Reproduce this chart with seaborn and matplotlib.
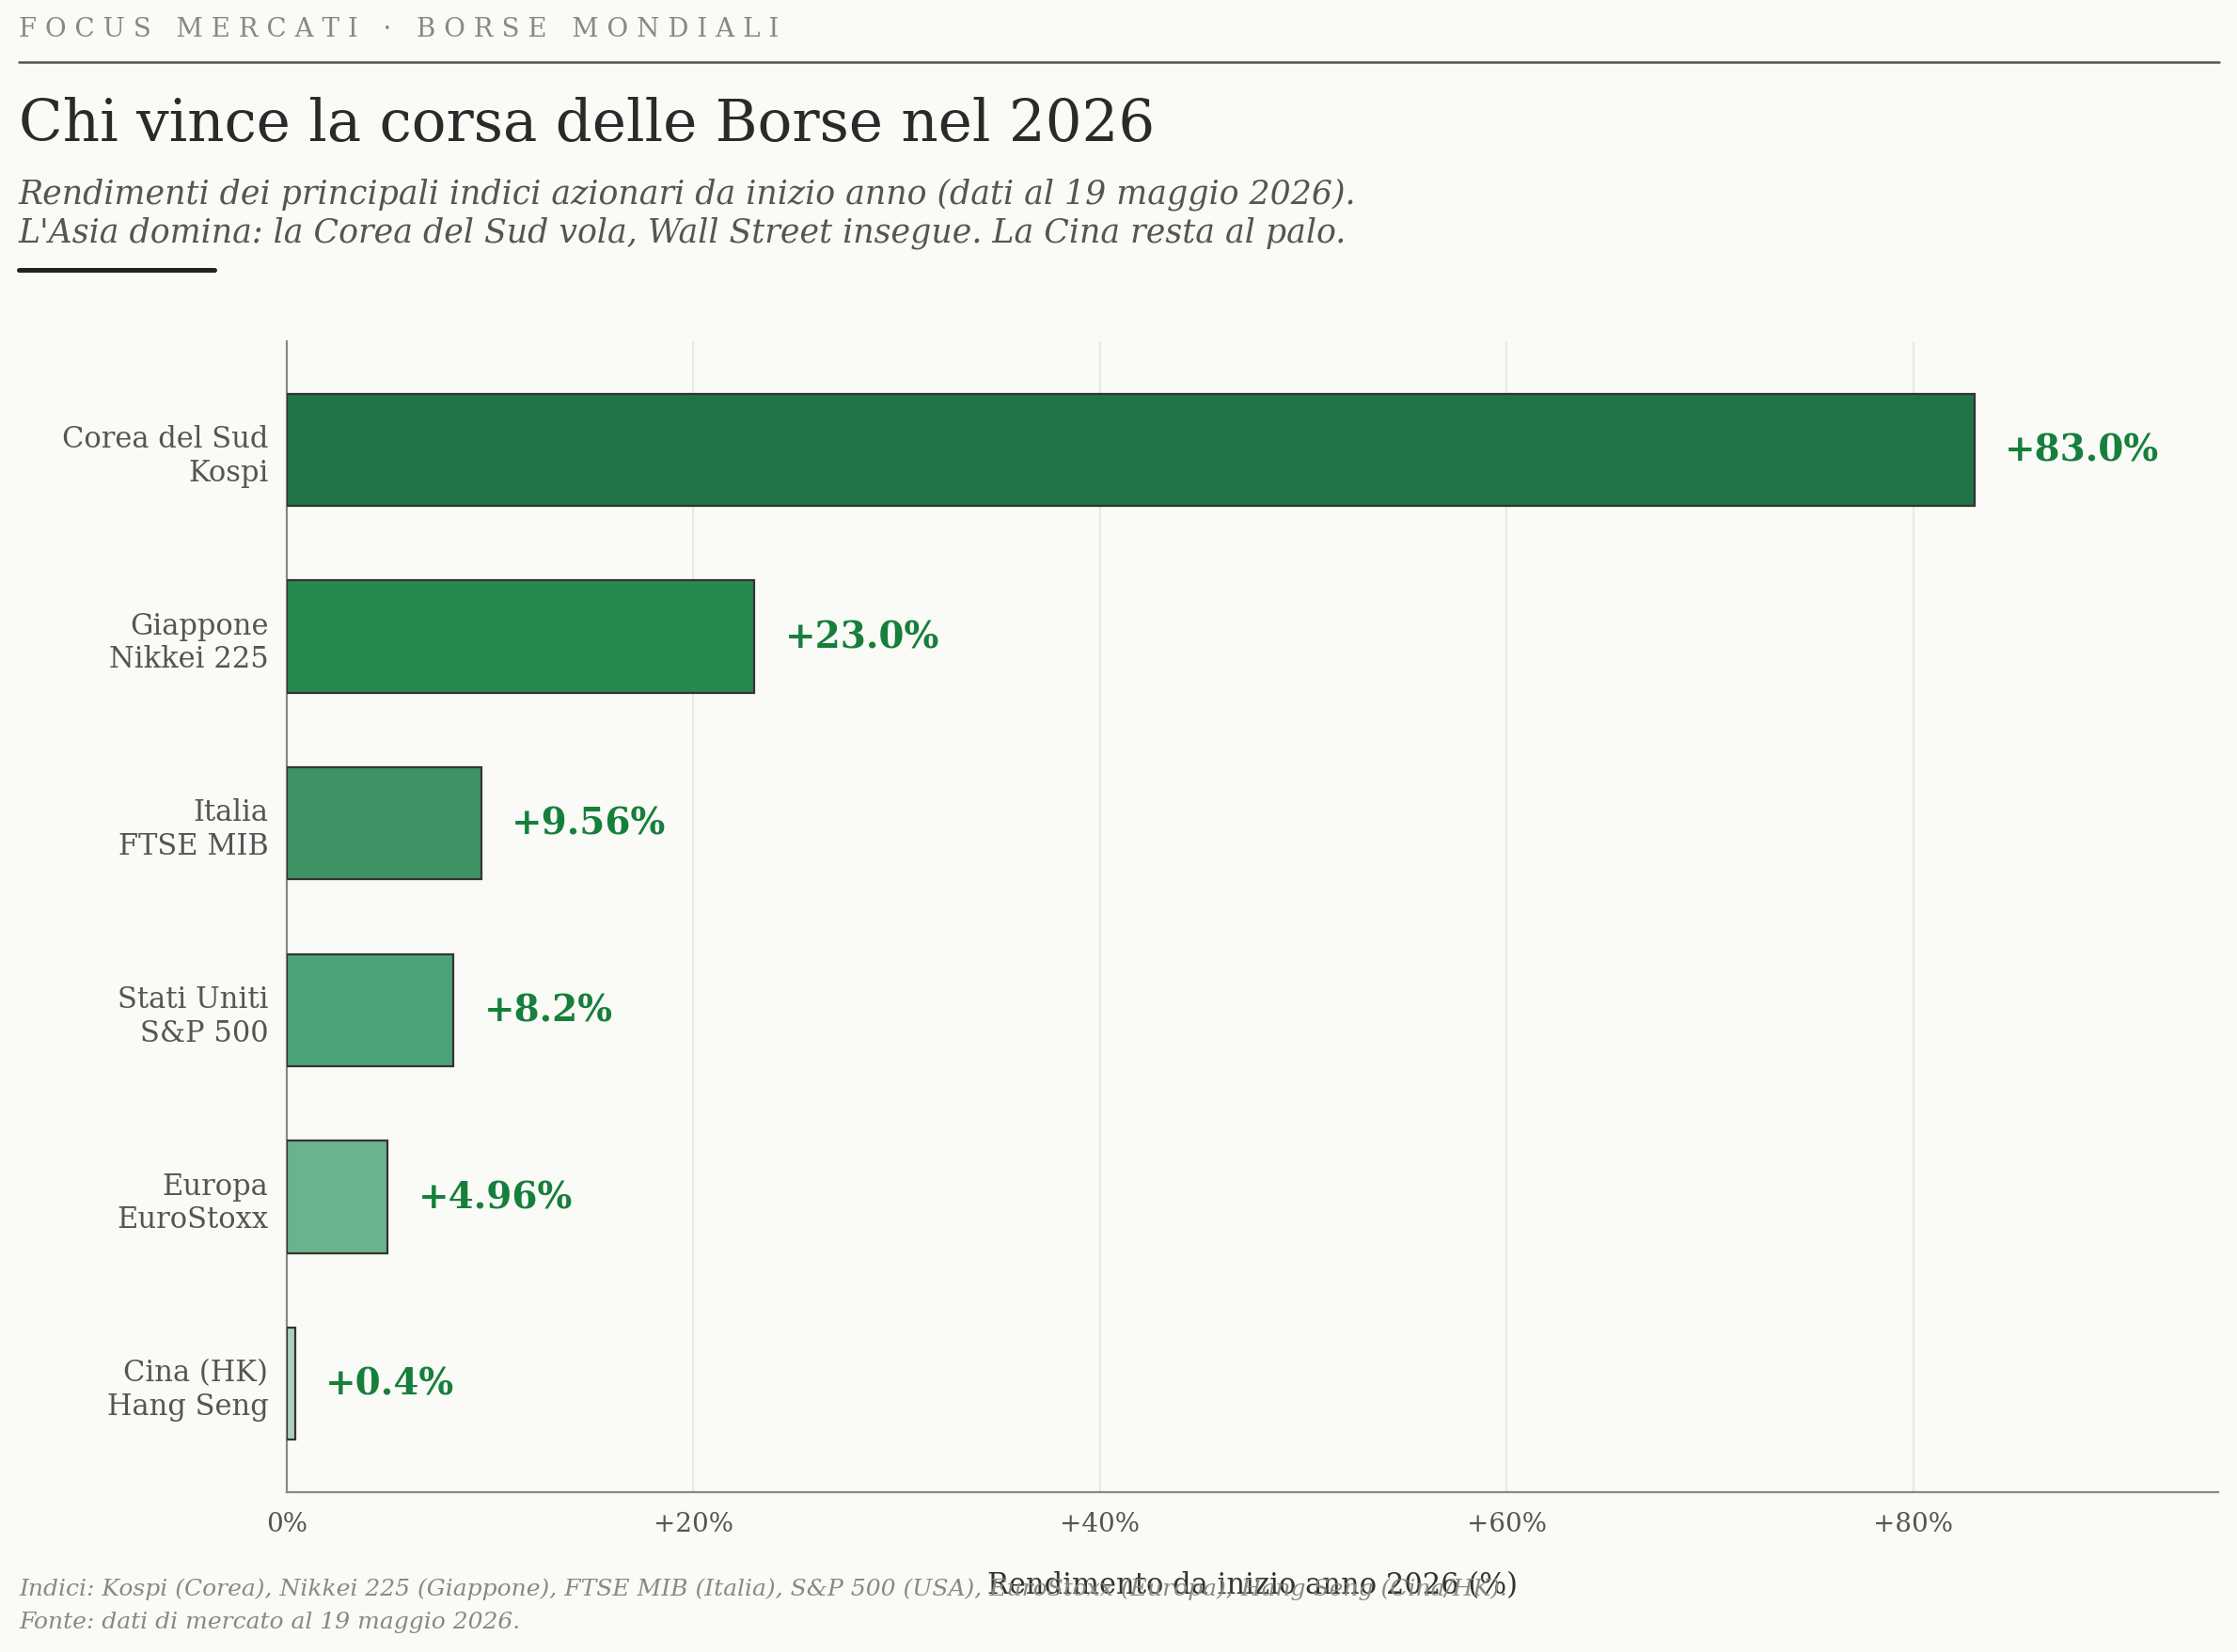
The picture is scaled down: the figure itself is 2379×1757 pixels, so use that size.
import matplotlib
matplotlib.use("Agg")
import matplotlib.pyplot as plt
import seaborn as sns
import pandas as pd
from matplotlib.lines import Line2D

# data
markets = ["Corea del Sud\nKospi", "Giappone\nNikkei 225", "Italia\nFTSE MIB",
           "Stati Uniti\nS&P 500", "Europa\nEuroStoxx", "Cina (HK)\nHang Seng"]
returns = [83.0, 23.0, 9.56, 8.2, 4.96, 0.4]
value_labels = ["+83.0%", "+23.0%", "+9.56%", "+8.2%", "+4.96%", "+0.4%"]
bar_colors = ["#217446", "#26894e", "#3d9363", "#4ba379", "#6bb38c", "#afcfbf"]
x_ticks = [0, 20, 40, 60, 80]
x_ticklabels = ["0%", "+20%", "+40%", "+60%", "+80%"]

BG = "#fafaf6"

sns.set_style("white")
plt.rcParams["font.family"] = ["DejaVu Serif"]

df = pd.DataFrame({"market": markets, "ret": returns})

fig = plt.figure(figsize=(2379 / 200, 1758 / 200), dpi=200, facecolor=BG)
ax = fig.add_axes([0.1282, 0.0967, 0.9916 - 0.1282, 0.7929 - 0.0967])
ax.set_facecolor(BG)

sns.barplot(data=df, x="ret", y="market", hue="market", palette=bar_colors,
            orient="h", width=0.6, saturation=1, edgecolor="#333333",
            linewidth=0.8, legend=False, ax=ax, zorder=3)

# value labels next to each bar
for i, (v, lab) in enumerate(zip(returns, value_labels)):
    ax.text(v + 1.5, i, lab, va="center", ha="left", fontsize=14,
            fontweight="bold", color="#157f3b", zorder=4)

ax.set_xlim(0, 95)
ax.set_ylim(5.58, -0.58)
ax.set_xticks(x_ticks)
ax.set_xticklabels(x_ticklabels)
ax.tick_params(axis="x", labelsize=10, colors="#555555", length=3.6, width=0.8)
ax.tick_params(axis="y", labelsize=11, colors="#555555", length=3.6, width=0.8)
ax.grid(axis="x", color="#e8e8e4", linewidth=0.8, zorder=0)
ax.grid(axis="y", visible=False)

for s in ["top", "right"]:
    ax.spines[s].set_visible(False)
for s in ["left", "bottom"]:
    ax.spines[s].set_color("#888888")
    ax.spines[s].set_linewidth(0.8)

ax.set_ylabel("")
ax.set_xlabel("Rendimento da inizio anno 2026 (%)", fontsize=11,
              color="#333333", labelpad=13)

# header
fig.text(0.0084, 0.9818, "F O C U S   M E R C A T I   ·   B O R S E   M O N D I A L I",
         fontsize=10, color="#888888", va="center", ha="left")
fig.add_artist(Line2D([0.0084, 0.992], [0.9619, 0.9619], color="#555555",
                      linewidth=0.9, transform=fig.transFigure))
fig.text(0.0084, 0.9147, "Chi vince la corsa delle Borse nel 2026",
         fontsize=22, color="#2a2a2a", va="baseline", ha="left")
fig.text(0.0084, 0.8766,
         "Rendimenti dei principali indici azionari da inizio anno (dati al 19 maggio 2026).",
         fontsize=12.5, style="italic", color="#555555", va="baseline", ha="left")
fig.text(0.0084, 0.8538,
         "L'Asia domina: la Corea del Sud vola, Wall Street insegue. La Cina resta al palo.",
         fontsize=12.5, style="italic", color="#555555", va="baseline", ha="left")
fig.add_artist(Line2D([0.0084, 0.0958], [0.8362, 0.8362], color="#222222",
                      linewidth=1.8, transform=fig.transFigure))

# footnotes
fig.text(0.0084, 1 - 1697 / 1758,
         "Indici: Kospi (Corea), Nikkei 225 (Giappone), FTSE MIB (Italia), S&P 500 (USA), "
         "EuroStoxx (Europa), Hang Seng (Cina/HK).",
         fontsize=9, style="italic", color="#888888", va="baseline", ha="left")
fig.text(0.0084, 1 - 1732 / 1758, "Fonte: dati di mercato al 19 maggio 2026.",
         fontsize=9, style="italic", color="#888888", va="baseline", ha="left")

fig.savefig("out.png", dpi=200, facecolor=BG)
